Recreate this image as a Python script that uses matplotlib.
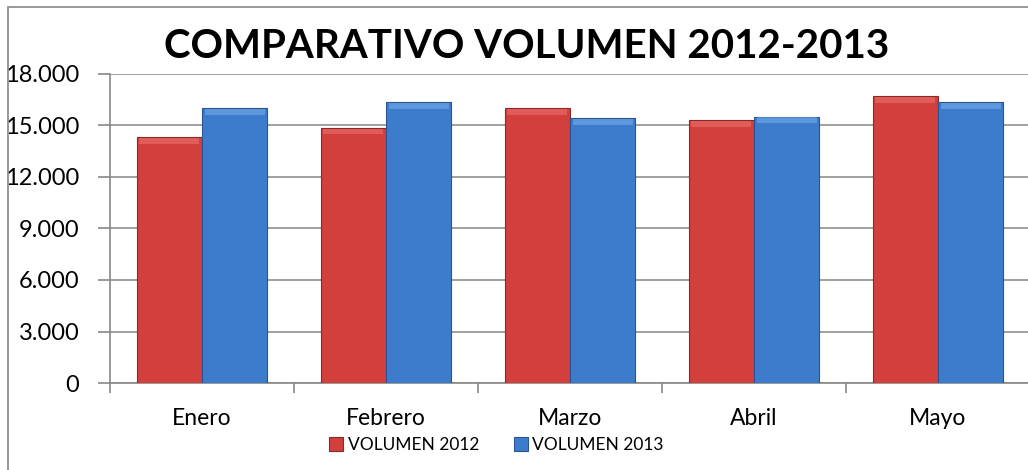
import numpy as np
import matplotlib
matplotlib.use("Agg")
import matplotlib.pyplot as plt
from matplotlib.patches import Rectangle

meses = ["Enero", "Febrero", "Marzo", "Abril", "Mayo"]
vol_2012 = [14300, 14850, 16000, 15300, 16700]
vol_2013 = [16000, 16350, 15400, 15500, 16350]
yticks = [0, 3000, 6000, 9000, 12000, 15000, 18000]
ylabels = ["0", "3.000", "6.000", "9.000", "12.000", "15.000", "18.000"]

plt.rcParams['font.family'] = ['Lato', 'DejaVu Sans']

fig = plt.figure(figsize=(10.28, 4.70), dpi=100)
ax = fig.add_axes([0.107, 0.185, 0.895, 0.658])

x = np.arange(len(meses))
w = 0.355
rojo, azul = "#d33f3c", "#3d7ccd"
ax.bar(x - w/2, vol_2012, w, color=rojo, edgecolor="#8a2a28", linewidth=0.8,
       label="VOLUMEN 2012", zorder=3)
ax.bar(x + w/2, vol_2013, w, color=azul, edgecolor="#2a5590", linewidth=0.8,
       label="VOLUMEN 2013", zorder=3)
# light bevel on top of the bars
for xs, vals, hl in [(x - w/2, vol_2012, "#ee7a76"), (x + w/2, vol_2013, "#7fb2ec")]:
    for xi, v in zip(xs, vals):
        ax.add_patch(Rectangle((xi - w/2 + 0.015, v - 380), w - 0.03, 340,
                               color=hl, alpha=0.5, lw=0, zorder=4))

ax.set_xlim(-0.5, len(meses) - 0.5)
ax.set_ylim(0, 18000)
ax.set_yticks(yticks)
ax.set_yticklabels(ylabels, fontsize=17)
ax.set_xticks(x)
ax.set_xticklabels(meses, fontsize=16.5)
ax.set_xticks(np.arange(len(meses) + 1) - 0.5, minor=True)
ax.tick_params(axis="x", which="major", length=0, pad=18)
ax.tick_params(axis="x", which="minor", length=7, color="#888888", width=1.2)
ax.tick_params(axis="y", length=9, color="#888888", width=1.2, pad=13)
ax.grid(axis="y", color="#999999", linewidth=1.3, zorder=0)
for s in ["top", "right"]:
    ax.spines[s].set_visible(False)
for s in ["left", "bottom"]:
    ax.spines[s].set_color("#888888")
    ax.spines[s].set_linewidth(1.2)

fig.text(0.512, 0.9, "COMPARATIVO VOLUMEN 2012-2013", ha="center", va="center",
         fontsize=29, fontweight="bold")

ax.legend(loc="center", bbox_to_anchor=(0.42, -0.2), ncol=2, frameon=False,
          fontsize=12.5, handlelength=0.8, handleheight=0.8, handletextpad=0.25,
          columnspacing=2.0)

fig.add_artist(Rectangle((8/1028, -0.1), 1.2, 1 - 7/470 + 0.1, transform=fig.transFigure,
                         fill=False, edgecolor="#888888", linewidth=1.2))

fig.savefig("out.png", dpi=100)
